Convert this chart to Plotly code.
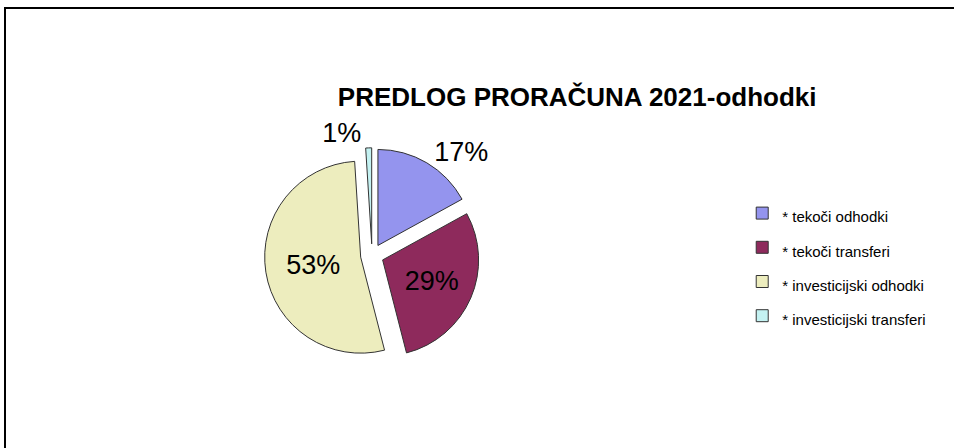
import plotly.graph_objects as go

categories = ["* tekoči odhodki", "* tekoči transferi", "* investicijski odhodki", "* investicijski transferi"]
values = [17, 29, 53, 1]
colors = ["#9494EE", "#8E2A5C", "#EDEDBE", "#C4F2F2"]
text_pos = ["outside", "inside", "inside", "outside"]
title_text = "PREDLOG PRORAČUNA 2021-odhodki"

legend_labels = ["<span style='font-size:15px'>" + c + "</span>" for c in categories]

fig = go.Figure(go.Pie(
    labels=legend_labels,
    values=values,
    customdata=categories,
    sort=False,
    direction="clockwise",
    rotation=0,
    pull=[0.12, 0.12, 0.12, 0.12],
    marker=dict(colors=colors, line=dict(color="#333333", width=1)),
    texttemplate="%{percent:.0%}",
    textposition=text_pos,
    textfont=dict(family="Liberation Sans, Arial", size=27, color="black"),
    insidetextorientation="horizontal",
    domain=dict(x=[0.277, 0.503], y=[0.19, 0.67]),
    hovertemplate="%{customdata}: %{percent}<extra></extra>",
))

fig.update_layout(
    width=954, height=448,
    margin=dict(l=0, r=0, t=0, b=0),
    paper_bgcolor="white",
    plot_bgcolor="white",
    font=dict(family="Liberation Sans, Arial", color="black"),
    title=dict(text="<b>" + title_text + "</b>", x=0.605, xanchor="center",
               y=1 - 97/448, yanchor="middle",
               font=dict(family="Liberation Sans, Arial", size=26, color="black")),
    legend=dict(x=0.778, y=1 - 191/448, xanchor="left", yanchor="top",
                font=dict(family="Liberation Sans, Arial", size=24, color="black"),
                itemwidth=30, bgcolor="rgba(0,0,0,0)"),
    shapes=[dict(type="rect", xref="paper", yref="paper",
                 x0=5/954, x1=1.02, y0=-0.02, y1=1 - 8/448,
                 line=dict(color="black", width=2))],
)

fig.write_html("out.html", config={"displayModeBar": False},
               post_script="document.body.style.margin='0';")
